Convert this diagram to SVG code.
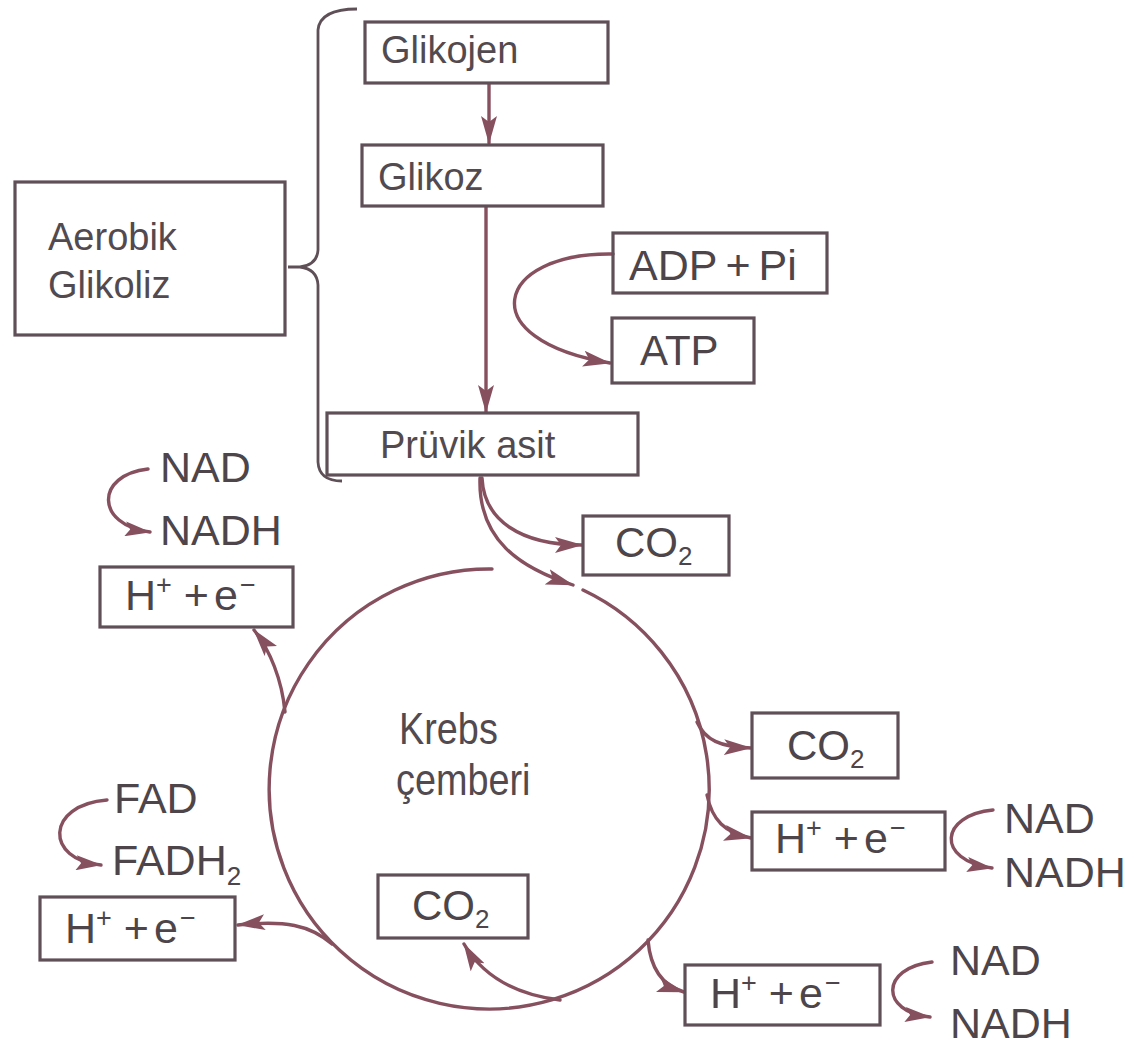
<svg xmlns="http://www.w3.org/2000/svg" width="1139" height="1049" viewBox="0 0 1139 1049">
<defs>
<marker id="ah" viewBox="0 0 28 16" refX="27" refY="8" markerWidth="28" markerHeight="16" markerUnits="userSpaceOnUse" orient="auto">
<path d="M0,0 L28,8 L0,16 L6,8 z" fill="#86505f"/>
</marker>
<marker id="ahs" viewBox="0 0 26 15" refX="25" refY="7.5" markerWidth="26" markerHeight="15" markerUnits="userSpaceOnUse" orient="auto">
<path d="M0,0 L26,7.5 L0,15 L5,7.5 z" fill="#86505f"/>
</marker>
</defs>
<style>
.bx{fill:none;stroke:#5f4f57;stroke-width:3.2}
.ln{fill:none;stroke:#86505f;stroke-width:3.4;stroke-linecap:round}
.br{fill:none;stroke:#5f4f57;stroke-width:2.8}
.cn{font-family:"Liberation Sans",Arial,sans-serif;font-size:38px;fill:#524a4f}
.kr{font-family:"Liberation Sans",Arial,sans-serif;font-size:44px;fill:#524a4f}
.hv{font-family:"Liberation Sans",Arial,sans-serif;font-size:42px;fill:#4d4549}
.nd{font-family:"Liberation Sans",Arial,sans-serif;font-size:43px;fill:#4d4549}
.he{font-family:"Liberation Sans",Arial,sans-serif;font-size:43px;fill:#4d4549}
.sub{font-size:26px}
.sup{font-size:27px}
</style>
<rect width="1139" height="1049" fill="#ffffff"/>

<g id="connectors">
<path class="br" d="M357,9 Q320,9 318,30 L318,250 Q317,265 300,267 L288,267 M300,267 Q317,269 318,285 L318,462 Q319,481 342,481"/>
<path class="ln" d="M489,84 L489,143" marker-end="url(#ah)"/>
<path class="ln" d="M486,207 L486,412" marker-end="url(#ah)"/>
<path class="ln" d="M613,254 C495,252 470,340 610,363" marker-end="url(#ah)"/>
<path class="ln" d="M482,478 C484,520 520,545 582,545" marker-end="url(#ah)"/>
<path class="ln" d="M480,478 C478,540 520,568 573,585" marker-end="url(#ah)"/>
<path class="ln" d="M583,590 A220,220 0 1 1 492,569"/>
<path class="ln" d="M285,712 C282,680 270,650 254,630" marker-end="url(#ah)"/>
<path class="ln" d="M332,944 C310,925 285,920 238,925" marker-end="url(#ah)"/>
<path class="ln" d="M560,1000 C520,995 485,980 464,944" marker-end="url(#ah)"/>
<path class="ln" d="M648,940 C650,965 660,985 684,992" marker-end="url(#ah)"/>
<path class="ln" d="M697,722 C705,740 720,747 751,748" marker-end="url(#ah)"/>
<path class="ln" d="M707,795 C712,820 725,833 751,838" marker-end="url(#ah)"/>
<path class="ln" d="M148,469 C95,475 95,525 150,532" marker-end="url(#ahs)"/>
<path class="ln" d="M107,800 C45,805 45,860 101,865" marker-end="url(#ahs)"/>
<path class="ln" d="M993,810 C940,815 935,860 992,868" marker-end="url(#ahs)"/>
<path class="ln" d="M932,962 C880,968 880,1012 930,1017" marker-end="url(#ahs)"/>
</g>

<g id="aerobik-glikoliz">
<rect class="bx" x="15" y="182" width="270" height="153"/>
<text class="cn" x="48" y="250">Aerobik</text>
<text class="cn" x="48" y="298">Glikoliz</text>
</g>
<g id="glikojen">
<rect class="bx" x="365" y="22" width="243" height="61"/>
<text class="cn" x="381" y="63">Glikojen</text>
</g>
<g id="glikoz">
<rect class="bx" x="362" y="145" width="241" height="61"/>
<text class="cn" x="378" y="190">Glikoz</text>
</g>
<g id="pruvik-asit">
<rect class="bx" x="327" y="413" width="311" height="62"/>
<text class="cn" x="380" y="458">Prüvik asit</text>
</g>
<g id="adp-pi">
<rect class="bx" x="613" y="233" width="214" height="60"/>
<text class="nd" x="629" y="280">ADP<tspan dx="8">+</tspan><tspan dx="8">Pi</tspan></text>
</g>
<g id="atp">
<rect class="bx" x="612" y="318" width="142" height="65"/>
<text class="hv" x="640" y="365">ATP</text>
</g>
<g id="co2-top">
<rect class="bx" x="583" y="516" width="146" height="59"/>
<text class="hv" x="615" y="557">CO<tspan class="sub" dy="8">2</tspan></text>
</g>
<g id="krebs">
<text class="kr" transform="translate(399,744) scale(0.86,1)">Krebs</text>
<text class="kr" transform="translate(396,795) scale(0.86,1)">çemberi</text>
</g>
<g id="nad-left">
<text class="nd" x="160" y="482">NAD</text>
<text class="nd" x="160" y="545">NADH</text>
</g>
<g id="h-e-topleft">
<rect class="bx" x="100" y="567" width="193" height="60"/>
<text class="he" x="125" y="610">H<tspan class="sup" dy="-16">+</tspan><tspan dy="16" dx="12">+</tspan><tspan dx="5">e</tspan><tspan class="sup" dy="-16" dx="2">−</tspan></text>
</g>
<g id="fad">
<text class="nd" x="114" y="813">FAD</text>
<text class="nd" x="112" y="875">FADH<tspan class="sub" dy="10">2</tspan></text>
</g>
<g id="h-e-bottomleft">
<rect class="bx" x="40" y="897" width="195" height="63"/>
<text class="he" x="65" y="943">H<tspan class="sup" dy="-16">+</tspan><tspan dy="16" dx="12">+</tspan><tspan dx="5">e</tspan><tspan class="sup" dy="-16" dx="2">−</tspan></text>
</g>
<g id="co2-bottom">
<rect class="bx" x="378" y="875" width="150" height="63"/>
<text class="hv" x="412" y="920">CO<tspan class="sub" dy="8">2</tspan></text>
</g>
<g id="co2-right">
<rect class="bx" x="752" y="713" width="146" height="65"/>
<text class="hv" x="787" y="760">CO<tspan class="sub" dy="8">2</tspan></text>
</g>
<g id="h-e-right1">
<rect class="bx" x="752" y="812" width="193" height="58"/>
<text class="he" x="775" y="853">H<tspan class="sup" dy="-16">+</tspan><tspan dy="16" dx="12">+</tspan><tspan dx="5">e</tspan><tspan class="sup" dy="-16" dx="2">−</tspan></text>
</g>
<g id="nad-right1">
<text class="nd" x="1004" y="833">NAD</text>
<text class="nd" x="1004" y="887">NADH</text>
</g>
<g id="h-e-right2">
<rect class="bx" x="685" y="965" width="195" height="60"/>
<text class="he" x="710" y="1008">H<tspan class="sup" dy="-16">+</tspan><tspan dy="16" dx="12">+</tspan><tspan dx="5">e</tspan><tspan class="sup" dy="-16" dx="2">−</tspan></text>
</g>
<g id="nad-right2">
<text class="nd" x="950" y="975">NAD</text>
<text class="nd" x="950" y="1038">NADH</text>
</g>
</svg>
